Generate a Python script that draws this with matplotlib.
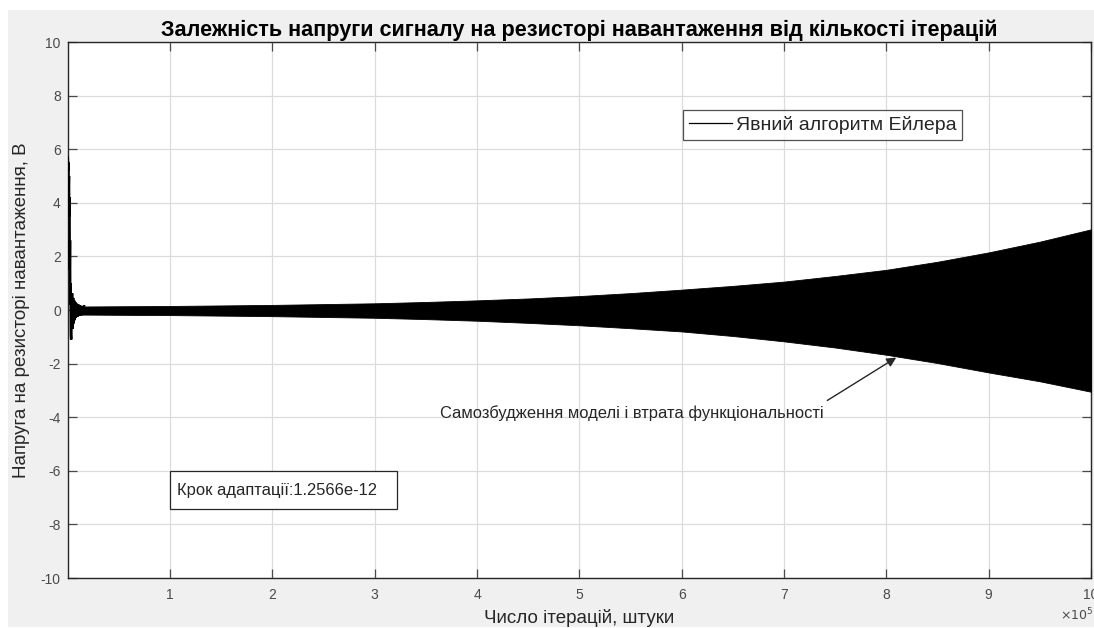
import matplotlib
matplotlib.use("Agg")
import matplotlib.pyplot as plt
from matplotlib.patches import Rectangle
import numpy as np

plt.rcParams['font.family'] = ['Liberation Sans', 'DejaVu Sans']

# Start-up transient of the load-resistor voltage (iterations, volts)
transient_iter = [0, 250, 500, 750, 1000, 1250, 1500, 1750, 2000, 2250, 2500, 2800,
                  3100, 3400, 3800, 4300, 4800, 5300, 5800, 6300, 6800, 7300,
                  7800, 8300, 8800, 9300, 9800, 10500, 11200, 12000, 13000,
                  14000, 15000, 16000]
transient_volt = [5.7, 5.6, 5.2, 5.5, 4.6, 5.0, 3.5, 4.2, 1.5, 2.6, 0.2, 1.0,
                  -0.9, -1.1, 0.1, 0.62, -0.7, 0.45, -0.5, 0.35, -0.38, 0.3,
                  -0.3, 0.25, -0.26, 0.22, -0.24, 0.2, -0.22, 0.17, -0.2,
                  0.15, -0.19, 0.14]

# Envelope of the self-excited oscillation (iterations, upper / lower volts)
env_iter = [12000, 50000, 100000, 150000, 200000, 250000, 300000, 350000, 400000,
            450000, 500000, 550000, 600000, 650000, 700000, 750000, 800000,
            850000, 900000, 950000, 1000000]
env_upper = [0.13, 0.14, 0.15, 0.17, 0.19, 0.22, 0.25, 0.30, 0.36, 0.43, 0.52,
             0.63, 0.76, 0.90, 1.06, 1.27, 1.50, 1.80, 2.15, 2.55, 3.01]
env_lower = [-0.17, -0.18, -0.19, -0.21, -0.23, -0.26, -0.29, -0.34, -0.40,
             -0.48, -0.57, -0.68, -0.80, -0.97, -1.17, -1.40, -1.67, -1.98,
             -2.33, -2.66, -3.05]

x_ticks = [100000, 200000, 300000, 400000, 500000, 600000, 700000, 800000, 900000, 1000000]
x_tick_labels = ['1', '2', '3', '4', '5', '6', '7', '8', '9', '10']
y_ticks = [-10, -8, -6, -4, -2, 0, 2, 4, 6, 8, 10]

W, H = 1094, 628
fig = plt.figure(figsize=(W / 100, H / 100), dpi=100)
fig.patch.set_facecolor('white')
fig.add_artist(Rectangle((8 / W, 1 / H), 1 - 8 / W, 1 - 11 / H,
                         transform=fig.transFigure, facecolor='#f0f0f0',
                         edgecolor='none', zorder=-10))

ax = fig.add_axes([67.7 / W, 1 - 578 / H, (1091 - 67.7) / W, (578 - 42) / H])
ax.set_facecolor('white')

axis_col = '#262626'
ax.plot(transient_iter, transient_volt, color='black', lw=1.8,
        label='Явний алгоритм Ейлера', zorder=3, solid_joinstyle='miter')
ax.fill_between(env_iter, env_lower, env_upper, color='black', lw=0.6,
                edgecolor='black', zorder=3)

ax.set_xlim(0, 1000000)
ax.set_ylim(-10, 10)
ax.set_xticks(x_ticks)
ax.set_xticklabels(x_tick_labels)
ax.set_yticks(y_ticks)
ax.set_yticklabels([str(v) for v in y_ticks])

ax.grid(True, color='#dcdcdc', lw=0.9)
ax.set_axisbelow(True)
for sp in ax.spines.values():
    sp.set_color(axis_col)
    sp.set_linewidth(1.0)
ax.tick_params(direction='in', length=6.5, width=0.9, colors='#4a4a4a',
               labelsize=10, top=True, right=True, pad=5)
ax.tick_params(axis='x', pad=7)

ax.set_title('Залежність напруги сигналу на резисторі навантаження від кількості ітерацій',
             fontsize=15.6, fontweight='bold', pad=4, color='black')
ax.set_xlabel('Число ітерацій, штуки', fontsize=13.5, color=axis_col, labelpad=5)
ax.set_ylabel('Напруга на резисторі навантаження, В', fontsize=13.5, color=axis_col,
              labelpad=8)

fig.text(1060 / W, 1 - 615 / H, r'$\times 10^5$', fontsize=9, color='#4a4a4a',
         ha='left', va='center')

leg = ax.legend(loc='upper left', bbox_to_anchor=((683 - 67.7) / 1023.3, (578 - 110) / 536),
                fontsize=14, frameon=True, fancybox=False, handlelength=2.2,
                handletextpad=0.2, borderpad=0.3, borderaxespad=0)
leg.get_frame().set_edgecolor(axis_col)
leg.get_frame().set_linewidth(0.9)
for h in leg.get_lines():
    h.set_linewidth(0.9)
for t in leg.get_texts():
    t.set_color(axis_col)

# Step-size text box
ax.add_patch(Rectangle((100000, -7.43), 222000, 1.42, facecolor='white',
                       edgecolor=axis_col, lw=0.9, zorder=4))
ax.text(107000, -6.72, 'Крок адаптації:1.2566e-12', fontsize=11.9, color=axis_col,
        ha='left', va='center', zorder=5)

# Annotation pointing at the growing oscillation
ax.annotate('', xy=(812000, -1.72), xytext=(740000, -3.43),
            arrowprops=dict(arrowstyle='-|>', color=axis_col, lw=1.0,
                            mutation_scale=14), zorder=5)
ax.text(551000, -3.84, 'Самозбудження моделі і втрата функціональності',
        fontsize=11.9, color=axis_col, ha='center', va='center', zorder=5)

fig.savefig('out.png', dpi=100)
